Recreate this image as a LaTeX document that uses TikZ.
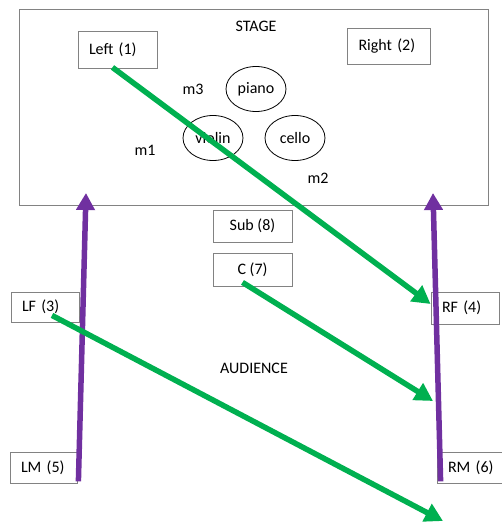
\documentclass[tikz,border=0pt]{standalone}
\usepackage{fontspec}
\setmainfont{Carlito}
\usetikzlibrary{arrows.meta,shapes.geometric}
\definecolor{movegreen}{RGB}{0,176,80}
\definecolor{movepurple}{RGB}{112,48,160}
\definecolor{edgegray}{RGB}{130,130,130}

\begin{document}
\begin{tikzpicture}[x=1pt,y=-1pt,font=\fontsize{16}{19}\selectfont,
  spot/.style={draw=edgegray,line width=0.8pt,inner xsep=11pt,inner ysep=0pt,align=left},
  cspot/.style={draw=edgegray,line width=0.8pt,inner sep=0pt,align=center},
  instr/.style={ellipse,draw=black,line width=0.8pt,minimum width=60pt,minimum height=45pt,inner sep=0pt},
  plain/.style={inner sep=0pt},
  greenmove/.style={draw=movegreen,line width=5.5pt,-{Triangle[length=18pt,width=19pt]}},
  purplemove/.style={draw=movepurple,line width=5.5pt,-{Triangle[length=17pt,width=18pt]}}]
  \useasboundingbox (0,0) rectangle (501,522);

  % stage area
  \node[draw=edgegray,line width=0.8pt,minimum width=469pt,minimum height=196pt,inner sep=0pt] (stage) at (254,107) {};
  \node[plain] (stagelbl) at (256,26) {STAGE};

  % speaker boxes
  \node[spot,text width=57pt,minimum height=37pt] (left) at (117.5,49.5) {Left (1)};
  \node[spot,text width=61pt,minimum height=36pt] (right) at (389,46) {Right (2)};
  \node[cspot,minimum width=79pt,minimum height=32pt] (sub) at (252.5,226) {Sub (8)};
  \node[cspot,minimum width=79pt,minimum height=33pt] (ctr) at (252.5,269.5) {C (7)};
  \node[spot,text width=46pt,minimum height=30pt] (lf) at (45,307) {LF (3)};
  \node[spot,text width=46pt,minimum height=32pt] (rf) at (465,308) {RF (4)};
  \node[spot,text width=50pt,minimum height=31pt] (rm) at (473,467.5) {RM (6)};
  \node[spot,text width=45pt,minimum height=31pt] (lm) at (43.5,467.5) {LM (5)};

  % instruments and microphones
  \node[instr] (piano) at (256,89) {piano};
  \node[instr] (violin) at (213,138) {violin};
  \node[instr] (cello) at (295,138) {cello};
  \node[plain] (m3) at (193,89) {m3};
  \node[plain] (m1) at (145,150) {m1};
  \node[plain] (m2) at (318,178) {m2};

  \node[plain] (aud) at (254,368) {AUDIENCE};

  % arrow end points
  \coordinate (lmtop) at (86,193);
  \coordinate (rmtop) at (433,193);
  \coordinate (cend) at (433,401);
  \coordinate (lfend) at (443,521);

  % movements
  \draw[purplemove] ([xshift=1pt,yshift=2pt]lm.south east) -- (lmtop);
  \draw[purplemove] ([xshift=4pt,yshift=2pt]rm.south west) -- (rmtop);
  \draw[greenmove] ([xshift=-5pt,yshift=1pt]left.south) -- ([yshift=4pt]rf.west);
  \draw[greenmove] ([xshift=-10pt,yshift=4pt]ctr.south) -- (cend);
  \draw[greenmove] ([xshift=7pt,yshift=7pt]lf.south) -- (lfend);
\end{tikzpicture}
\end{document}
